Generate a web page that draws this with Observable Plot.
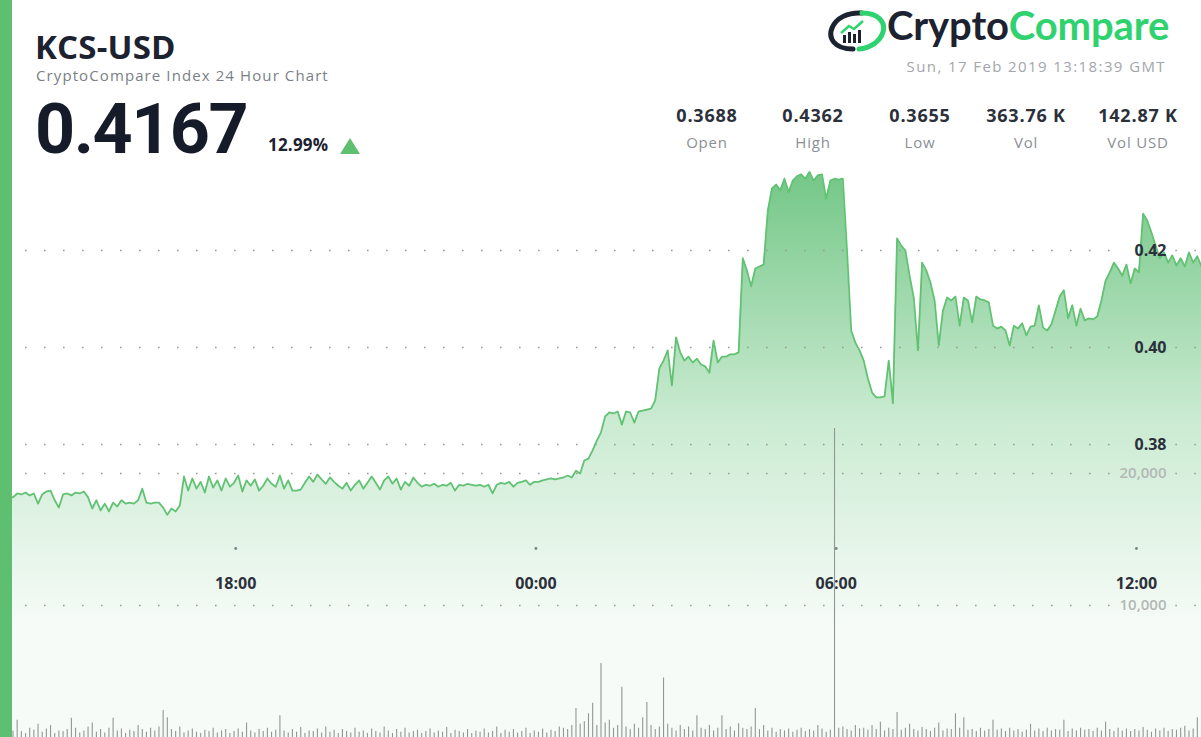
<!DOCTYPE html>
<html><head><meta charset="utf-8">
<script src="https://cdn.jsdelivr.net/npm/d3@7"></script>
<script src="https://cdn.jsdelivr.net/npm/@observablehq/plot@0.6"></script>
<style>
body{margin:0;background:#fff;font-family:"Open Sans",sans-serif;}
#wrap{position:relative;width:1201px;height:737px;overflow:hidden;background:#fff;}
.abs{position:absolute;white-space:nowrap;line-height:1;}
#bar{left:0;top:0;width:12px;height:737px;background:#5fbf70;}
#title{left:35px;top:30px;font-size:33px;font-weight:700;color:#1c2230;letter-spacing:0.2px;}
#subtitle{left:36px;top:68px;font-size:15px;color:#7b7f86;letter-spacing:1.1px;}
#price{left:35px;top:94px;font-family:Roboto,sans-serif;font-size:70px;font-weight:700;color:#151b28;letter-spacing:-1.5px;}
#change{left:268px;top:136px;font-size:17px;font-weight:700;color:#1c2230;letter-spacing:0.2px;}
#tri{left:340px;top:138px;width:0;height:0;border-left:10px solid transparent;border-right:10px solid transparent;border-bottom:16px solid #5fbf70;}
#logo{left:826px;top:8px;}
#logotext{left:887px;top:5px;font-family:Lato,sans-serif;font-size:40px;font-weight:700;letter-spacing:-0.1px;}
#date{right:35px;top:59px;font-size:15px;color:#a3a6ab;letter-spacing:1.4px;}
.stat{position:absolute;top:106px;width:130px;margin-left:-65px;text-align:center;line-height:1;}
.stat .v{font-size:18px;font-weight:700;color:#2b303b;letter-spacing:0.8px;}
.stat .l{font-size:15px;color:#8b8f95;margin-top:11px;letter-spacing:0.8px;}
</style></head>
<body>
<div id="wrap">
  <div id="plots"></div>
  <div class="abs" id="bar"></div>
  <div class="abs" id="title"></div>
  <div class="abs" id="subtitle"></div>
  <div class="abs" id="price"></div>
  <div class="abs" id="change"></div>
  <div class="abs" id="tri"></div>
  <svg class="abs" id="logo" width="62" height="46" viewBox="0 0 62 46">
    <path d="M27 41 C 8 41, 2 30, 6 20 C 10 10, 22 4, 36 5" fill="none" stroke="#1c2230" stroke-width="5" stroke-linecap="round"/>
    <path d="M36 5 C 52 5, 60 14, 57 24 C 54 34, 44 40, 33 41" fill="none" stroke="#2fd26f" stroke-width="5" stroke-linecap="round"/>
    <rect x="17" y="27" width="3" height="8" fill="#1c2230"/>
    <rect x="22" y="24" width="3" height="11" fill="#1c2230"/>
    <rect x="27" y="26" width="3" height="9" fill="#1c2230"/>
    <rect x="32" y="22" width="3" height="13" fill="#1c2230"/>
    <path d="M15 25 L23 18 L28 21 L37 13" fill="none" stroke="#2fd26f" stroke-width="2.5"/>
  </svg>
  <div class="abs" id="logotext"><span style="color:#1c2230">Crypto</span><span style="color:#2fd26f">Compare</span></div>
  <div class="abs" id="date"></div>
  <div id="stats"></div>
</div>
<script>
// ---- data ----
const pair = "KCS-USD";
const subtitle = "CryptoCompare Index 24 Hour Chart";
const lastPrice = "0.4167";
const changePct = "12.99%";
const dateText = "Sun, 17 Feb 2019 13:18:39 GMT";
const statLabels = ["Open", "High", "Low", "Vol", "Vol USD"];
const statValues = ["0.3688", "0.4362", "0.3655", "363.76 K", "142.87 K"];

const startTime = new Date(Date.UTC(2019, 1, 16, 13, 18));
const endTime = new Date(Date.UTC(2019, 1, 17, 13, 18));
const stepMinutes = 5;

const prices = [
0.3688,0.3695,0.3693,0.3691,0.3699,0.3697,0.3701,0.3695,0.3699,0.3678,
0.3697,0.3703,0.3705,0.3685,0.3670,0.3697,0.3699,0.3695,0.3701,0.3699,
0.3703,0.3691,0.3668,0.3685,0.3664,0.3678,0.3662,0.3680,0.3672,0.3685,
0.3678,0.3680,0.3678,0.3685,0.3709,0.3680,0.3678,0.3680,0.3680,0.3670,
0.3655,0.3668,0.3662,0.3674,0.3734,0.3705,0.3730,0.3709,0.3723,0.3701,
0.3734,0.3711,0.3726,0.3705,0.3730,0.3713,0.3721,0.3736,0.3703,0.3726,
0.3715,0.3728,0.3705,0.3715,0.3730,0.3719,0.3713,0.3736,0.3709,0.3726,
0.3705,0.3705,0.3707,0.3721,0.3734,0.3723,0.3738,0.3728,0.3719,0.3732,
0.3723,0.3715,0.3709,0.3721,0.3705,0.3717,0.3726,0.3709,0.3721,0.3734,
0.3721,0.3707,0.3726,0.3734,0.3719,0.3730,0.3707,0.3723,0.3715,0.3732,
0.3721,0.3713,0.3717,0.3715,0.3719,0.3713,0.3717,0.3715,0.3721,0.3705,
0.3717,0.3715,0.3719,0.3717,0.3715,0.3717,0.3713,0.3717,0.3699,0.3717,
0.3721,0.3719,0.3723,0.3713,0.3721,0.3723,0.3726,0.3717,0.3723,0.3723,
0.3726,0.3728,0.3730,0.3728,0.3730,0.3732,0.3736,0.3732,0.3746,0.3740,
0.3767,0.3771,0.3788,0.3808,0.3825,0.3858,0.3866,0.3864,0.3868,0.3841,
0.3868,0.3866,0.3845,0.3868,0.3870,0.3872,0.3874,0.3891,0.3957,0.3973,
0.3994,0.3922,0.4021,0.3990,0.3973,0.3981,0.3969,0.3977,0.3965,0.3961,
0.3948,0.4014,0.3969,0.3981,0.3981,0.3986,0.3986,0.3990,0.4184,0.4159,
0.4126,0.4163,0.4167,0.4171,0.4282,0.4328,0.4336,0.4324,0.4348,0.4320,
0.4344,0.4353,0.4357,0.4348,0.4362,0.4344,0.4355,0.4357,0.4307,0.4344,
0.4348,0.4346,0.4348,0.4200,0.4035,0.4010,0.3994,0.3973,0.3936,0.3907,
0.3897,0.3897,0.3899,0.3973,0.3885,0.4225,0.4210,0.4200,0.4148,0.4103,
0.3994,0.4175,0.4159,0.4134,0.4097,0.4004,0.4076,0.4103,0.4097,0.4105,
0.4045,0.4103,0.4097,0.4052,0.4105,0.4099,0.4097,0.4093,0.4045,0.4039,
0.4043,0.4035,0.4004,0.4045,0.4039,0.4050,0.4025,0.4043,0.4045,0.4087,
0.4041,0.4035,0.4048,0.4076,0.4105,0.4118,0.4060,0.4087,0.4045,0.4080,
0.4056,0.4060,0.4058,0.4064,0.4097,0.4138,0.4155,0.4175,0.4163,0.4148,
0.4171,0.4132,0.4163,0.4155,0.4276,0.4262,0.4237,0.4210,0.4184,0.4196,
0.4175,0.4190,0.4169,0.4184,0.4167,0.4196,0.4175,0.4188,0.4167
];

const volumes = [
400,600,350,500,1300,450,300,700,550,1000,
400,650,900,300,500,450,600,1450,700,350,
500,800,1100,400,600,350,700,1450,500,650,
300,550,450,900,600,400,700,500,800,2050,
1500,600,450,800,350,500,650,400,300,550,
450,700,350,500,600,300,450,650,400,1100,
500,350,600,450,700,400,550,1650,500,350,
600,400,750,300,500,450,650,350,800,400,
550,300,600,450,350,700,400,500,300,650,
450,350,800,500,300,600,400,700,350,450,
550,300,450,650,350,500,400,750,300,550,
450,350,600,300,500,400,650,350,450,800,
300,550,400,600,350,450,700,300,500,400,
650,350,550,450,800,700,600,900,2200,1000,
1200,1800,2600,900,5600,1100,1300,700,900,3800,
800,600,1000,700,1500,2650,900,600,800,4500,
1000,700,500,900,600,800,500,1650,700,600,
900,500,700,1650,600,800,500,1050,700,600,
800,2200,600,900,500,700,400,600,500,650,
400,550,700,450,600,500,900,650,400,550,
23400,700,800,600,500,900,650,700,550,900,
600,1150,500,700,600,1900,550,700,1000,600,
500,750,600,450,700,1100,500,650,600,1800,
700,1500,550,600,450,700,500,600,1300,550,
650,450,700,500,600,400,550,1000,500,650,
450,700,500,600,550,1300,450,650,500,700,
550,600,450,700,500,1150,600,450,700,500,
650,450,600,500,750,550,400,650,500,700,
450,600,550,700,850,500,650,1500,600
];

const priceTicks = [0.38, 0.40, 0.42];
const volumeTicks = [10000, 20000];
const timeTicks = [
  new Date(Date.UTC(2019, 1, 16, 18, 0)),
  new Date(Date.UTC(2019, 1, 17, 0, 0)),
  new Date(Date.UTC(2019, 1, 17, 6, 0)),
  new Date(Date.UTC(2019, 1, 17, 12, 0))
];

// ---- header text ----
document.getElementById("title").textContent = pair;
document.getElementById("subtitle").textContent = subtitle;
document.getElementById("price").textContent = lastPrice;
document.getElementById("change").textContent = changePct;
document.getElementById("date").textContent = dateText;
const statX = [707, 813, 920, 1026, 1138];
const statsDiv = document.getElementById("stats");
statLabels.forEach((l, i) => {
  const d = document.createElement("div");
  d.className = "stat";
  d.style.left = statX[i] + "px";
  d.innerHTML = `<div class="v">${statValues[i]}</div><div class="l">${l}</div>`;
  statsDiv.appendChild(d);
});

// ---- tables for the library ----
const step = stepMinutes * 60000;
const priceData = prices.map((p, i) => ({t: new Date(+startTime + i * step), p}));
const volumeData = volumes.map((v, i) => ({t: new Date(+startTime + i * step), v}));

const W = 1201, H = 737;
const xScale = {type: "utc", domain: [startTime, endTime], range: [0, W], axis: null};
const gapStart = new Date(Date.UTC(2019, 1, 17, 11, 35));
const gapEnd = new Date(Date.UTC(2019, 1, 17, 12, 40));
const dotted = {stroke: "#9a9c9b", strokeWidth: 1.6, strokeDasharray: "1.6,17.4", strokeDashoffset: -6};

const defs = () => {
  const d = d3.create("svg:defs");
  const g = d.append("linearGradient").attr("id", "areaFill")
    .attr("gradientUnits", "userSpaceOnUse").attr("x1", 0).attr("x2", 0).attr("y1", 172).attr("y2", 625);
  g.append("stop").attr("offset", 0).attr("stop-color", "#74c787");
  g.append("stop").attr("offset", 0.55).attr("stop-color", "#cbebd2");
  g.append("stop").attr("offset", 1).attr("stop-color", "#f6fbf7");
  return d.node();
};

const pricePlot = Plot.plot({
  width: W, height: H, margin: 0,
  style: {background: "transparent", overflow: "visible"},
  x: xScale,
  y: {domain: [0.38, 0.42], range: [444, 250], axis: null},
  marks: [
    defs,
    Plot.areaY(priceData, {x: "t", y1: 0.30, y2: "p", fill: "url(#areaFill)", clip: true}),
    Plot.ruleY(priceTicks, {y: d => d, x1: startTime, x2: gapStart, ...dotted}),
    Plot.ruleY(priceTicks, {y: d => d, x1: gapEnd, x2: endTime, ...dotted}),
    Plot.lineY(priceData, {x: "t", y: "p", stroke: "#62c274", strokeWidth: 1.8, clip: true}),
    Plot.text(priceTicks, {y: d => d, frameAnchor: "right", dx: -35, textAnchor: "end",
      text: d => d.toFixed(2), fontSize: 16, fontWeight: 700, fill: "#2b303b", fontFamily: "Open Sans"}),
    Plot.dot(timeTicks, {x: d => d, frameAnchor: "top", dy: 548, r: 1.4, fill: "#7d8088", stroke: null}),
    Plot.text(timeTicks, {x: d => d, frameAnchor: "top", dy: 577, text: d => d3.utcFormat("%H:%M")(d),
      fontSize: 16, fontWeight: 700, fill: "#2b303b", fontFamily: "Open Sans"})
  ]
});

const volumePlot = Plot.plot({
  width: W, height: H, margin: 0,
  style: {background: "transparent", overflow: "visible"},
  x: xScale,
  y: {domain: [0, 20000], range: [H, 473], axis: null},
  marks: [
    Plot.ruleY(volumeTicks, {y: d => d, x1: startTime, x2: gapStart, ...dotted}),
    Plot.ruleY(volumeTicks, {y: d => d, x1: gapEnd, x2: endTime, ...dotted}),
    Plot.ruleX(volumeData, {x: "t", y1: 0, y2: "v", stroke: "#8f9892", strokeWidth: 1.1}),
    Plot.text(volumeTicks, {y: d => d, frameAnchor: "right", dx: -35, textAnchor: "end",
      text: d => d3.format(",")(d), fontSize: 15, fontWeight: 600, fill: "#b3b8b5", fontFamily: "Open Sans"})
  ]
});

const holder = document.getElementById("plots");
[pricePlot, volumePlot].forEach(p => {
  p.style.position = "absolute"; p.style.left = "0px"; p.style.top = "0px";
  holder.appendChild(p);
});
</script>
</body></html>
